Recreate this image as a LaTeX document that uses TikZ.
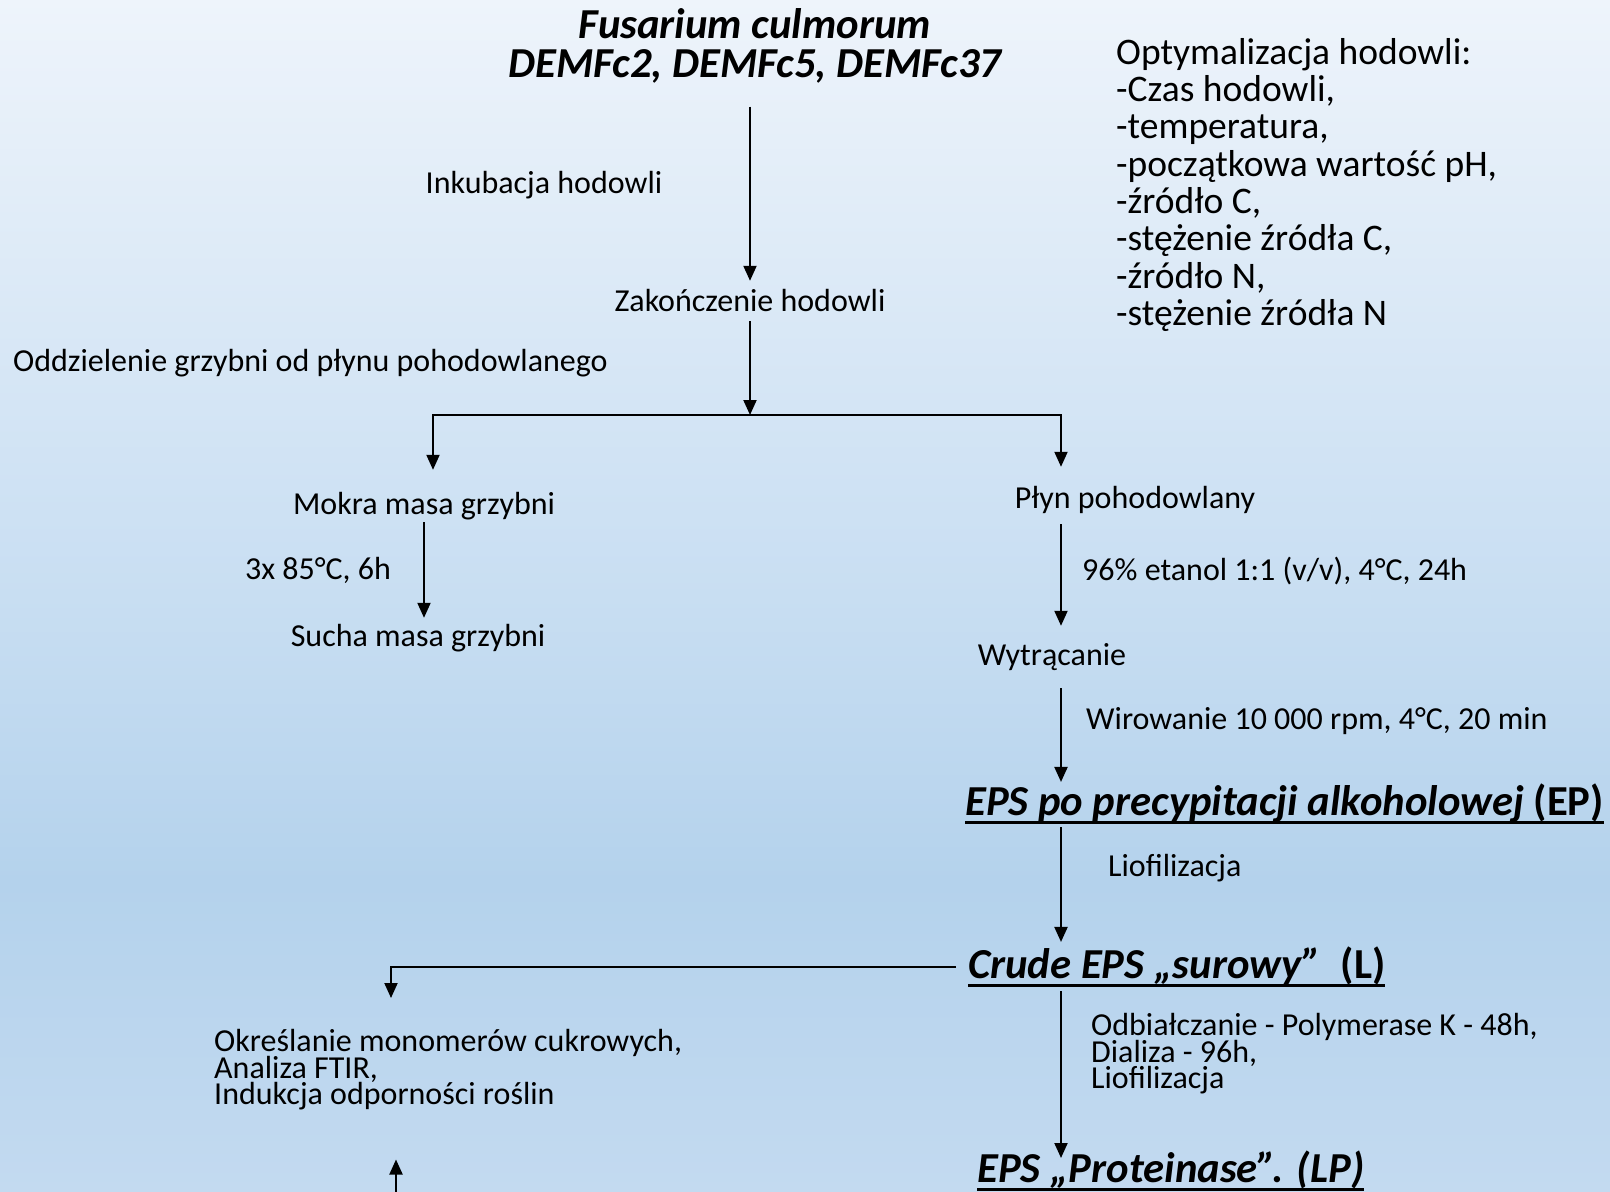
\documentclass[tikz,border=0pt]{standalone}
\usepackage{fontspec}
\setmainfont{Carlito}
\usetikzlibrary{arrows.meta, positioning}
\newcommand{\thickul}[1]{\leavevmode\setbox0=\hbox{#1}\rlap{\vrule height -5pt depth 8pt width \wd0}\box0}
\newcommand{\tightlines}{\setlength{\lineskiplimit}{-1000pt}}
%Colors
\definecolor{bgtop}{HTML}{EEF4FB}
\definecolor{bgmid}{HTML}{C8DEF2}
\definecolor{bgdeep}{HTML}{B4D2EC}
\definecolor{bgbottom}{HTML}{C3DAF0}
\pgfdeclareverticalshading{slide fade}{100bp}{color(0bp)=(bgbottom); color(25bp)=(bgbottom);
  color(38bp)=(bgdeep); color(50bp)=(bgmid); color(75bp)=(bgtop); color(100bp)=(bgtop)}

\begin{document}
\begin{tikzpicture}[x=1pt, y=-1pt,
    %Style
    flow arrow/.style={line width=2pt, -{Triangle[length=15pt, width=13pt]}},
    step text/.style={inner sep=0pt, text height=25.5pt, text depth=4.5pt, font=\fontsize{32}{37.3}\selectfont},
    list text/.style={inner sep=0pt, align=left, font=\fontsize{37.5}{37.3}\selectfont\tightlines},
    tight list/.style={inner sep=0pt, align=left, font=\fontsize{32}{26.7}\selectfont\tightlines},
    product text/.style={inner sep=0pt, font=\fontsize{42.7}{39}\selectfont\bfseries\itshape}]

    %Background
    \shade[shading=slide fade] (0,0) rectangle (1610,1192);
    \useasboundingbox (0,0) rectangle (1610,1192);

    %The steps
    \node[product text, align=center] (strain) at (755,46) {Fusarium culmorum\\DEMFc2, DEMFc5, DEMFc37};
    \node[list text, anchor=north west] (optim) at (1116,38)
      {Optymalizacja hodowli:\\-Czas hodowli,\\-temperatura,\\-początkowa wartość pH,\\-źródło C,\\-stężenie źródła C,\\-źródło N,\\-stężenie źródła N};
    \node[step text] (incub) at (544,183) {Inkubacja hodowli};
    \node[step text] (endcult) at (750,301) {Zakończenie hodowli};
    \node[step text, anchor=west] (separ) at (13,361) {Oddzielenie grzybni od płynu pohodowlanego};
    \node[step text] (wetmass) at (424,504) {Mokra masa grzybni};
    \node[step text] (drying) at (318,569) {3x 85°C, 6h};
    \node[step text] (drymass) at (418,636) {Sucha masa grzybni};
    \node[step text] (broth) at (1135,498) {Płyn pohodowlany};
    \node[step text, anchor=west] (ethanol) at (1082,570) {96\% etanol 1:1 (v/v), 4°C, 24h};
    \node[step text] (precip) at (1052,655) {Wytrącanie};
    \node[step text, anchor=west] (centrif) at (1086,719) {Wirowanie 10 000 rpm, 4°C, 20 min};
    \node[product text, anchor=west] (ep) at (965,804) {\thickul{EPS po precypitacji alkoholowej {\upshape(EP)}}};
    \node[step text, anchor=west] (lyoph) at (1108,866) {Liofilizacja};
    \node[product text, anchor=west] (crude) at (968,967) {\thickul{Crude EPS „surowy”\ \ {\upshape(L)}}};
    \node[tight list, anchor=north west] (deprot) at (1091,1013)
      {Odbiałczanie - Polymerase K - 48h,\\Dializa - 96h,\\Liofilizacja};
    \node[tight list, anchor=north west] (analysis) at (214,1029)
      {Określanie monomerów cukrowych,\\Analiza FTIR,\\Indukcja odporności roślin};
    \node[product text, anchor=west] (lp) at (977,1171) {\thickul{EPS „Proteinase”. (LP)}};

    %The arrows
    \coordinate (split) at (750,415);
    \coordinate (rcol) at (1061,0);
    \coordinate (lcol) at (433,0);
    \coordinate (bcol) at (391,0);
    \coordinate (bottom) at (396,1200);

    \draw[flow arrow, shorten <=23pt, shorten >=5pt] (strain.south -| endcult) -- (endcult.north);
    \draw[flow arrow, shorten <=5pt] (endcult.south) -- (split);
    \draw[flow arrow, shorten >=19pt] (split) -| (wetmass.north -| lcol);
    \draw[flow arrow, shorten >=16pt] (split) -| (broth.north -| rcol);
    \draw[flow arrow, shorten <=3pt, shorten >=3pt] (wetmass.south) -- (drymass.north -| wetmass.south);
    \draw[flow arrow, shorten <=11pt, shorten >=14pt] (broth.south -| rcol) -- (precip.north -| rcol);
    \draw[flow arrow, shorten <=18pt, shorten >=2pt] (precip.south -| rcol) -- (ep.north -| rcol);
    \draw[flow arrow, shorten <=3pt, shorten >=5pt] (ep.south -| rcol) -- (crude.north -| rcol);
    \draw[flow arrow, shorten <=4pt, shorten >=13pt] (crude.south -| rcol) -- (lp.center -| rcol);
    \draw[flow arrow, shorten <=12pt, shorten >=31pt] (crude.west) -| (analysis.north -| bcol);
    \draw[flow arrow, shorten >=49pt] (bottom) -- (bottom |- analysis.south);
\end{tikzpicture}
\end{document}
